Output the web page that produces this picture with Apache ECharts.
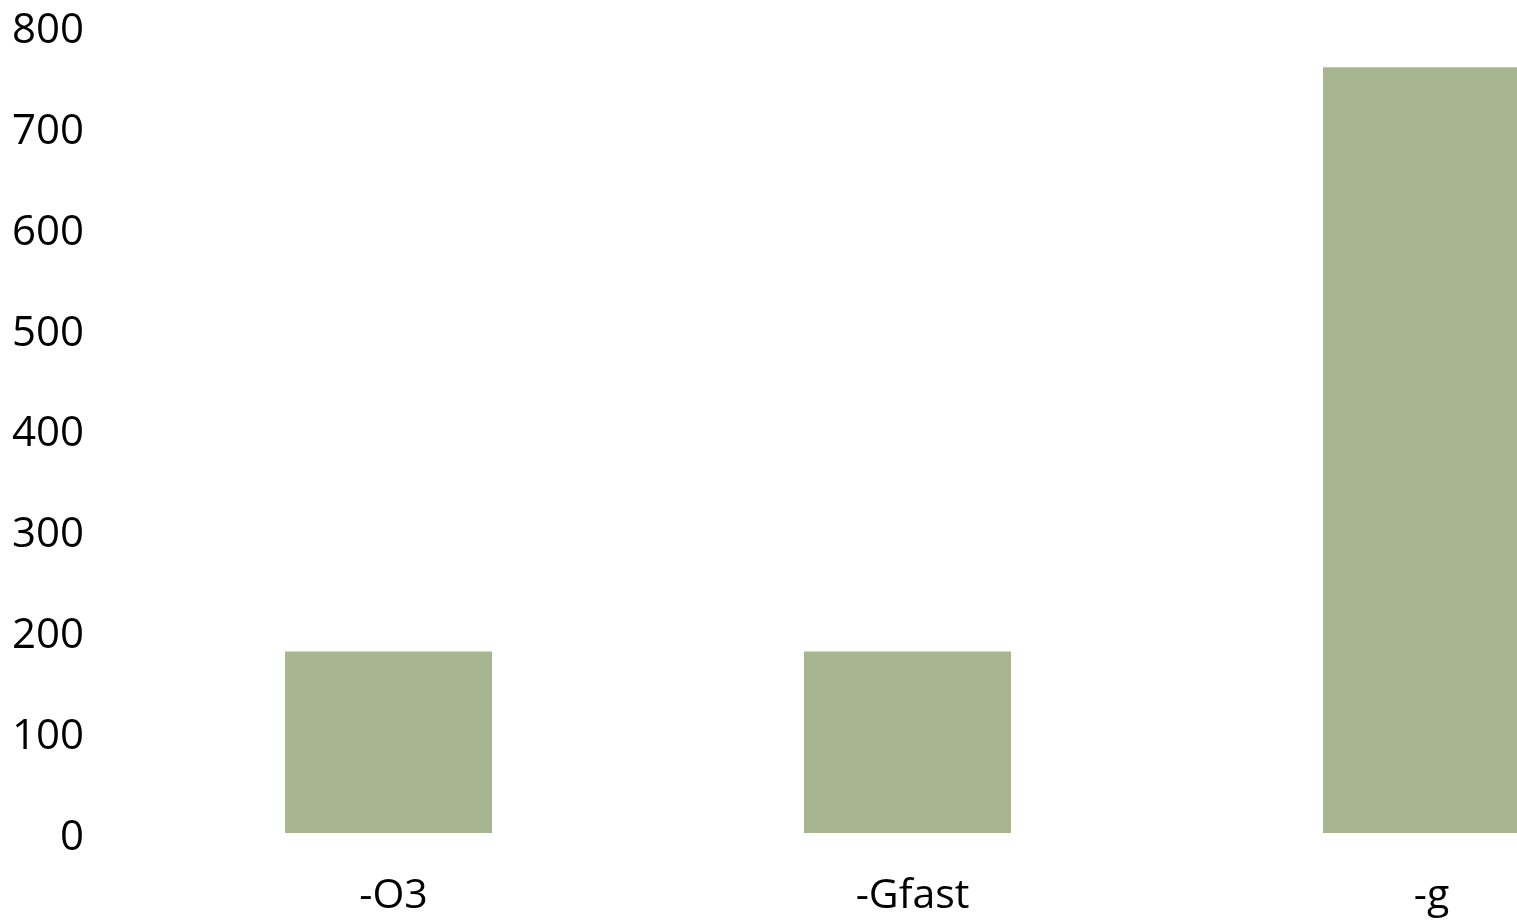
<!DOCTYPE html>
<html>
<head>
<meta charset="utf-8">
<script src="https://cdn.jsdelivr.net/npm/echarts@6/dist/echarts.min.js"></script>
<style>
html,body{margin:0;padding:0;overflow:hidden;background:#fff;}
#chart{width:1800px;height:921px;}
</style>
</head>
<body>
<div id="chart"></div>
<script>
const categories = ['-O3', '-Gfast', '-g'];
const values = [180, 180, 759];
const yTicks = { min: 0, max: 800, interval: 100 };

const chart = echarts.init(document.getElementById('chart'), null, { renderer: 'canvas' });
chart.setOption({
  animation: false,
  backgroundColor: '#ffffff',
  grid: { left: 129, top: 26, width: 1557, bottom: 88, containLabel: false },
  xAxis: {
    type: 'category',
    data: categories,
    axisLine: { show: false },
    axisTick: { show: false },
    axisLabel: { color: '#000', fontFamily: 'Open Sans', fontSize: 41, margin: 43, padding: [0, 0, 0, 10] }
  },
  yAxis: {
    type: 'value',
    min: yTicks.min, max: yTicks.max, interval: yTicks.interval,
    splitLine: { show: false },
    axisLine: { show: false },
    axisTick: { show: false },
    axisLabel: {
      color: '#000', fontFamily: 'Open Sans', fontSize: 42, margin: 45,
      formatter: function (v) { return '{a|' + v + '}'; },
      rich: { a: { fontFamily: 'Open Sans', fontSize: 42, color: '#000', padding: [10, 0, 0, 0] } }
    }
  },
  series: [{
    type: 'bar',
    data: values,
    barWidth: 207,
    itemStyle: { color: '#a7b591' }
  }]
});
</script>
</body>
</html>
